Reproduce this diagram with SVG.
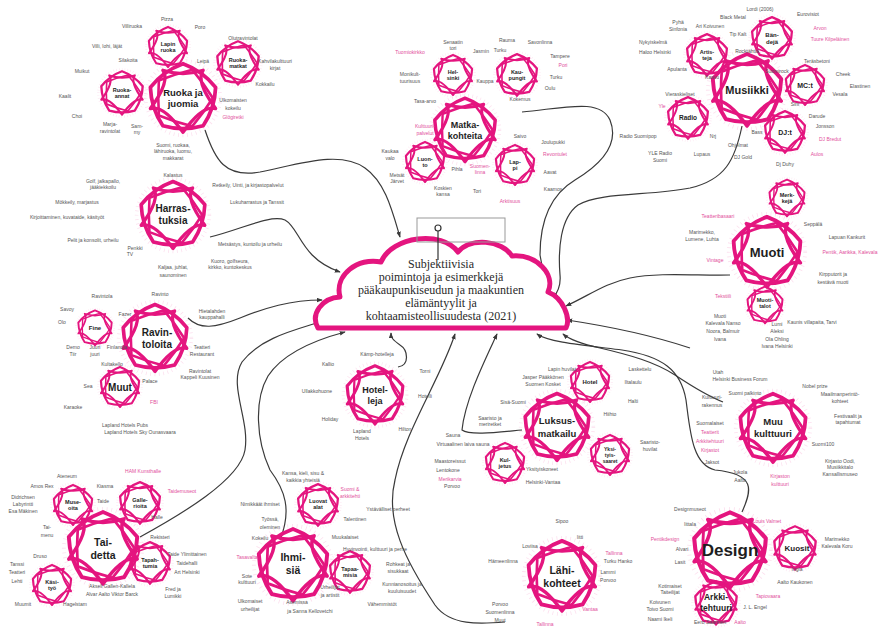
<svg xmlns="http://www.w3.org/2000/svg" xmlns:xlink="http://www.w3.org/1999/xlink" width="886" height="632" viewBox="0 0 886 632">
<style>
.fl{fill:none;stroke:#e4157f;stroke-linejoin:round}
.con{fill:none;stroke:#3a3a3a;stroke-width:1.2;marker-end:url(#ar)}
.tl{font-family:"Liberation Sans",Arial,sans-serif;font-weight:bold;fill:#1e1e1e;text-anchor:middle}
.t{font-family:"Liberation Sans",Arial,sans-serif;font-size:5px;fill:#555;text-anchor:middle}
.p{font-family:"Liberation Sans",Arial,sans-serif;font-size:5px;fill:#e24f9c;text-anchor:middle}
.cl{font-family:"Liberation Serif","Times New Roman",serif;font-size:12px;fill:#2a2a2a;text-anchor:middle}
</style>
<defs>
<symbol id="fl" viewBox="-55 -55 110 110">
<circle r="50" fill="none" stroke="#f06cb2" stroke-width="5" stroke-dasharray="1 5" opacity="0.22"/>
<path class="fl" stroke-width="5" d="M0,-46 Q26.45,-36.41 43.75,-14.21 Q42.8,13.91 27.04,37.21 Q0,45 -27.04,37.21 Q-42.8,13.91 -43.75,-14.21 Q-26.45,-36.41 0,-46Z"/>
<path class="fl" stroke-width="4.5" d="M27.04,-37.21 Q16.5,-22.7 43.75,14.21 Q26.6,8.6 0,46 Q-26.6,8.6 -43.75,14.21 Q-16.5,-22.7 -27.04,-37.21 Q0,-28 27.04,-37.21Z"/>
<path class="fl" stroke-width="3.5" d="M12.36,-38.04 Q27.51,-19.98 40,0 Q27.51,19.98 12.36,38.04 Q-10.51,32.34 -32.36,23.51 Q-34,0 -32.36,-23.51 Q-10.51,-32.34 12.36,-38.04Z"/>
</symbol>
<marker id="ar" viewBox="0 0 8 6" refX="7" refY="3" markerWidth="6" markerHeight="5" orient="auto" markerUnits="userSpaceOnUse">
<path d="M0,0 L8,3 L0,6z" fill="#3a3a3a"/>
</marker>
</defs>
<rect width="886" height="632" fill="#ffffff"/>

<g id="connectors">
<path class="con" d="M205,130 C215,160 225,178 260,172 C300,164 340,150 365,168 C385,182 392,210 400,237"/>
<path class="con" d="M522,112 C565,108 600,98 610,120 C620,145 600,165 575,180 C555,192 540,215 540,255 L544,276"/>
<path class="con" d="M742,126 C735,160 725,180 690,188 C650,196 600,192 578,205 C560,218 558,250 560,275 C561,285 558,292 553,298"/>
<path class="con" d="M730,275 C700,276 660,272 630,278 C605,283 590,295 566,306"/>
<path class="con" d="M690,348 C660,338 620,328 567,320"/>
<path class="con" d="M210,237 C240,230 270,214 285,220 C300,228 300,258 340,272"/>
<path class="con" d="M188,318 C200,330 215,328 240,318 C265,308 290,300 322,300"/>
<path class="con" d="M140,537 C180,515 240,480 245,450 C250,420 228,385 242,362 C260,338 295,330 320,322"/>
<path class="con" d="M280,540 C292,510 285,490 270,470 C256,440 254,400 268,376 C283,353 315,340 345,332"/>
<path class="con" d="M398,367 C410,365 408,350 400,345 C393,340 391,338 391,333"/>
<path class="con" d="M505,622 C480,624 450,626 435,605 C405,560 385,520 395,480 C405,430 440,380 455,334"/>
<path class="con" d="M522,430 C500,432 470,436 462,430 C465,400 485,360 497,334"/>
<path class="con" d="M723,402 C705,395 690,385 675,375 C655,362 630,355 600,348 C582,344 570,340 563,334"/>
<path class="con" d="M742,512 C752,490 756,474 715,470 C692,465 690,430 686,400 C681,370 662,356 622,350 C582,345 548,342 537,334"/>
</g>

<g id="cloud">
<path d="M318,328 C310,314 322,298 340,297 C334,275 358,257 381,262 C392,236 442,230 458,252 C470,237 502,240 512,256 C536,254 556,274 548,292 C563,298 571,318 566,328 Z" fill="#fff" stroke="#e4157f" stroke-width="5" stroke-linejoin="round"/>
<rect x="417" y="218" width="88" height="24" fill="none" stroke="#999" stroke-width="1"/>
<line x1="438" y1="231" x2="438" y2="260" stroke="#333" stroke-width="1.2"/>
<circle cx="438" cy="228" r="3" fill="#fff" stroke="#333" stroke-width="1.2"/>
<text class="cl" x="441" y="268">Subjektiivisia</text>
<text class="cl" x="441" y="281">poimintoja ja esimerkkejä</text>
<text class="cl" x="441" y="294">pääkaupunkiseudun ja maakuntien</text>
<text class="cl" x="441" y="307">elämäntyylit ja</text>
<text class="cl" x="441" y="320">kohtaamisteollisuudesta (2021)</text>
</g>

<g id="ruoka">
<use href="#fl" x="142" y="57" width="82" height="82"/>
<text class="tl" font-size="9.5" x="183" y="96">Ruoka ja</text>
<text class="tl" font-size="9.5" x="183" y="107">juomia</text>
<use href="#fl" x="144" y="23" width="48" height="48"/>
<text class="tl" font-size="5.5" x="168" y="46">Lapin</text>
<text class="tl" font-size="5.5" x="168" y="52">ruoka</text>
<use href="#fl" x="212" y="37" width="52" height="52"/>
<text class="tl" font-size="5.5" x="238" y="62">Ruoka-</text>
<text class="tl" font-size="5.5" x="238" y="68">matkat</text>
<use href="#fl" x="96" y="67" width="52" height="52"/>
<text class="tl" font-size="5.5" x="122" y="92">Ruoka-</text>
<text class="tl" font-size="5.5" x="122" y="98">annat</text>
<text class="t" x="167" y="21">Pizza</text>
<text class="t" x="132" y="28">Villiruoka</text>
<text class="t" x="200" y="29">Poro</text>
<text class="t" x="107" y="48">Villi, lohi, läjät</text>
<text class="t" x="243" y="40">Olutravintolat</text>
<text class="t" x="128" y="62">Silakoita</text>
<text class="t" x="203" y="63">Leipä</text>
<text class="t" x="275" y="63">Kahvilakulttuuri</text>
<text class="t" x="275" y="70">kirjat</text>
<text class="t" x="82" y="73">Muikut</text>
<text class="t" x="265" y="86">Kokkailu</text>
<text class="t" x="65" y="98">Kaalit</text>
<text class="t" x="233" y="102">Ulkomaisten</text>
<text class="t" x="233" y="110">kokeilu</text>
<text class="p" x="233" y="119">Glögiretki</text>
<text class="t" x="77" y="118">Choi</text>
<text class="t" x="110" y="126">Marja-</text>
<text class="t" x="110" y="133">ravintolat</text>
<text class="t" x="137" y="128">Sam-</text>
<text class="t" x="137" y="134">my</text>
<text class="t" x="173" y="147">Suomi, ruokaa,</text>
<text class="t" x="173" y="153">lähiruoka, luomu,</text>
<text class="t" x="173" y="160">makkarat</text>
</g>

<g id="matka">
<use href="#fl" x="427" y="92" width="76" height="76"/>
<text class="tl" font-size="9" x="465" y="128">Matka-</text>
<text class="tl" font-size="9" x="465" y="139">kohteita</text>
<use href="#fl" x="429" y="51" width="48" height="48"/>
<text class="tl" font-size="5.5" x="453" y="74">Hel-</text>
<text class="tl" font-size="5.5" x="453" y="80">sinki</text>
<use href="#fl" x="492" y="50" width="50" height="50"/>
<text class="tl" font-size="5.5" x="517" y="74">Kau-</text>
<text class="tl" font-size="5.5" x="517" y="80">pungit</text>
<use href="#fl" x="401" y="138" width="48" height="48"/>
<text class="tl" font-size="5.5" x="425" y="161">Luon-</text>
<text class="tl" font-size="5.5" x="425" y="167">to</text>
<use href="#fl" x="491" y="141" width="48" height="48"/>
<text class="tl" font-size="5.5" x="515" y="164">Lap-</text>
<text class="tl" font-size="5.5" x="515" y="170">pi</text>
<text class="t" x="453" y="44">Senaatin</text>
<text class="t" x="453" y="50">tori</text>
<text class="p" x="410" y="54">Tuomiokirkko</text>
<text class="t" x="481" y="53">Jasmin</text>
<text class="t" x="507" y="42">Rauma</text>
<text class="t" x="500" y="52">Turku</text>
<text class="t" x="540" y="44">Savonlinna</text>
<text class="t" x="560" y="58">Tampere</text>
<text class="p" x="563" y="67">Pori</text>
<text class="t" x="410" y="76">Monikult-</text>
<text class="t" x="410" y="83">tuurisuus</text>
<text class="t" x="556" y="79">Turku</text>
<text class="t" x="550" y="90">Oulu</text>
<text class="t" x="485" y="83">Kauppa</text>
<text class="t" x="425" y="103">Tasa-arvo</text>
<text class="t" x="520" y="101">Kokemus</text>
<text class="p" x="425" y="128">Kulttuuri-</text>
<text class="p" x="425" y="135">palvelut</text>
<text class="t" x="520" y="138">Saivo</text>
<text class="t" x="553" y="144">Joulupukki</text>
<text class="p" x="555" y="156">Revontulet</text>
<text class="t" x="390" y="153">Kaukaa</text>
<text class="t" x="390" y="160">valo</text>
<text class="t" x="457" y="171">Pihla</text>
<text class="p" x="480" y="168">Suomen-</text>
<text class="p" x="480" y="174">linna</text>
<text class="t" x="550" y="174">Aavat</text>
<text class="t" x="397" y="177">Metsät</text>
<text class="t" x="397" y="183">Järvet</text>
<text class="t" x="553" y="191">Kaamos</text>
<text class="t" x="443" y="190">Koskien</text>
<text class="t" x="443" y="196">kansa</text>
<text class="t" x="477" y="193">Tori</text>
<text class="p" x="510" y="203">Arktisuus</text>
</g>

<g id="musiikki">
<use href="#fl" x="704" y="47" width="86" height="86"/>
<text class="tl" font-size="11" x="747" y="94">Musiikki</text>
<use href="#fl" x="682" y="30" width="50" height="50"/>
<text class="tl" font-size="5.5" x="707" y="54">Artis-</text>
<text class="tl" font-size="5.5" x="707" y="60">teja</text>
<use href="#fl" x="747" y="13" width="50" height="50"/>
<text class="tl" font-size="6" x="772" y="37">Bän-</text>
<text class="tl" font-size="6" x="772" y="44">dejä</text>
<use href="#fl" x="781" y="61" width="48" height="48"/>
<text class="tl" font-size="7" x="805" y="88">MC:t</text>
<use href="#fl" x="760" y="107" width="50" height="50"/>
<text class="tl" font-size="7" x="785" y="135">DJ:t</text>
<use href="#fl" x="663" y="93" width="50" height="50"/>
<text class="tl" font-size="6.5" x="688" y="120">Radio</text>
<text class="t" x="760" y="11">Lordi (2006)</text>
<text class="t" x="808" y="16">Eurovisiot</text>
<text class="t" x="733" y="19">Black Metal</text>
<text class="t" x="678" y="24">Pyhä</text>
<text class="t" x="678" y="31">Sinfonia</text>
<text class="t" x="710" y="28">Ari Koivunen</text>
<text class="t" x="738" y="36">Tip Kalt</text>
<text class="p" x="820" y="30">Arvon</text>
<text class="p" x="830" y="41">Tuure Kilpeläinen</text>
<text class="t" x="653" y="44">Nykyiskelmä</text>
<text class="t" x="655" y="54">Haloo Helsinki</text>
<text class="t" x="747" y="53">Rocktähtiä</text>
<text class="t" x="817" y="63">Teräsbetoni</text>
<text class="t" x="677" y="71">Apulanta</text>
<text class="t" x="777" y="73">Suomirock</text>
<text class="t" x="843" y="76">Cheek</text>
<text class="t" x="712" y="79">Kasvu</text>
<text class="t" x="860" y="88">Elastinen</text>
<text class="t" x="680" y="96">Vieraskieliset</text>
<text class="p" x="662" y="108">Yle</text>
<text class="t" x="840" y="96">Vesala</text>
<text class="t" x="795" y="106">Sini</text>
<text class="t" x="817" y="118">Darude</text>
<text class="t" x="825" y="128">Jonsson</text>
<text class="t" x="638" y="138">Radio Suomipop</text>
<text class="t" x="757" y="134">Bass</text>
<text class="t" x="713" y="138">Nrj</text>
<text class="p" x="830" y="141">DJ Bredut</text>
<text class="t" x="738" y="147">Ohjelmat</text>
<text class="p" x="817" y="156">Aulos</text>
<text class="t" x="660" y="155">YLE Radio</text>
<text class="t" x="660" y="162">Suomi</text>
<text class="t" x="702" y="156">Lupaus</text>
<text class="t" x="743" y="159">DJ Gold</text>
<text class="t" x="785" y="166">Dj Duhy</text>
</g>

<g id="muoti">
<use href="#fl" x="725" y="210" width="84" height="84"/>
<text class="tl" font-size="13" x="767" y="257">Muoti</text>
<use href="#fl" x="765" y="176" width="44" height="44"/>
<text class="tl" font-size="5.5" x="787" y="197">Merk-</text>
<text class="tl" font-size="5.5" x="787" y="203">kejä</text>
<use href="#fl" x="743" y="283" width="44" height="44"/>
<text class="tl" font-size="5.5" x="765" y="302">Muoti-</text>
<text class="tl" font-size="5.5" x="765" y="308">talot</text>
<text class="p" x="718" y="218">Teatteribasaari</text>
<text class="t" x="813" y="226">Seppälä</text>
<text class="t" x="702" y="234">Marimekko,</text>
<text class="t" x="702" y="241">Lumene, Luhta</text>
<text class="t" x="847" y="239">Lapuan Kankurit</text>
<text class="p" x="850" y="254">Pentik, Aarikka, Kalevala</text>
<text class="p" x="715" y="262">Vintage</text>
<text class="t" x="833" y="276">Kirpputorit ja</text>
<text class="t" x="833" y="284">kestävä muoti</text>
<text class="p" x="723" y="298">Tekstiili</text>
<text class="t" x="720" y="318">Muoti</text>
<text class="t" x="723" y="325">Kalevala Nanso</text>
<text class="t" x="723" y="333">Noora, Balmuir</text>
<text class="t" x="720" y="341">Ivana</text>
<text class="t" x="812" y="324">Kaunis villapaita, Tarvi</text>
<text class="t" x="777" y="326">Lumi</text>
<text class="t" x="777" y="333">Aleksi</text>
<text class="t" x="777" y="341">Ola Ohling</text>
<text class="t" x="777" y="348">Ivana Helsinki</text>
</g>

<g id="harrastuksia">
<use href="#fl" x="133" y="175" width="80" height="80"/>
<text class="tl" font-size="10" x="173" y="212">Harras-</text>
<text class="tl" font-size="10" x="173" y="224">tuksia</text>
<text class="t" x="103" y="183">Golf, jalkapallo,</text>
<text class="t" x="103" y="189">jääkiekkoilu</text>
<text class="t" x="173" y="177">Kalastus</text>
<text class="t" x="248" y="187">Retkeily, Uinti, ja kirjastopalvelut</text>
<text class="t" x="77" y="204">Mökkeily, marjastus</text>
<text class="t" x="257" y="204">Lukuharrastus ja Tanssit</text>
<text class="t" x="67" y="219">Kirjoittaminen, kuvataide, käsityöt</text>
<text class="t" x="93" y="242">Pelit ja konsolit, urheilu</text>
<text class="t" x="250" y="246">Metsästys, kuntoilu ja urheilu</text>
<text class="t" x="135" y="250">Penkki</text>
<text class="t" x="130" y="256">TV</text>
<text class="t" x="173" y="269">Kaljaa, juhlat,</text>
<text class="t" x="173" y="277">saunominen</text>
<text class="t" x="230" y="263">Kuoro, golfseura,</text>
<text class="t" x="230" y="269">kirkko, kuntokeskus</text>
</g>

<g id="ravintoloita">
<use href="#fl" x="115" y="298" width="80" height="80"/>
<text class="tl" font-size="10" x="157" y="336">Ravin-</text>
<text class="tl" font-size="10" x="157" y="348">toloita</text>
<use href="#fl" x="74" y="307" width="42" height="42"/>
<text class="tl" font-size="6" x="95" y="330">Fine</text>
<use href="#fl" x="96" y="363" width="48" height="48"/>
<text class="tl" font-size="10" x="120" y="391">Muut</text>
<text class="t" x="160" y="296">Ravinto</text>
<text class="t" x="102" y="298">Ravintola</text>
<text class="t" x="67" y="311">Savoy</text>
<text class="t" x="125" y="316">Fazer</text>
<text class="t" x="62" y="324">Olo</text>
<text class="t" x="212" y="313">Hietalahden</text>
<text class="t" x="212" y="319">kauppahalli</text>
<text class="t" x="73" y="349">Demo</text>
<text class="t" x="73" y="356">Tiir</text>
<text class="t" x="95" y="349">Juuri</text>
<text class="t" x="95" y="356">juuri</text>
<text class="t" x="117" y="349">Finlandia</text>
<text class="t" x="202" y="349">Teatteri</text>
<text class="t" x="202" y="356">Restaurant</text>
<text class="t" x="112" y="366">Kultakello</text>
<text class="t" x="200" y="373">Ravintolat</text>
<text class="t" x="200" y="379">Kappeli Kuusinen</text>
<text class="t" x="88" y="388">Sea</text>
<text class="t" x="150" y="383">Palace</text>
<text class="p" x="154" y="404">FBI</text>
<text class="t" x="73" y="409">Karaoke</text>
<text class="t" x="125" y="427">Lapland Hotels Pubs</text>
<text class="t" x="140" y="434">Lapland Hotels Sky Ounasvaara</text>
</g>

<g id="hotelleja">
<use href="#fl" x="340" y="360" width="70" height="70"/>
<text class="tl" font-size="9" x="375" y="393">Hotel-</text>
<text class="tl" font-size="9" x="375" y="404">leja</text>
<text class="t" x="377" y="356">Kämp-hotelleja</text>
<text class="t" x="328" y="366">Kallio</text>
<text class="t" x="425" y="373">Torni</text>
<text class="t" x="317" y="393">Ullakkohuone</text>
<text class="t" x="425" y="398">Hotelli</text>
<text class="t" x="330" y="421">Holiday</text>
<text class="t" x="362" y="433">Lapland</text>
<text class="t" x="362" y="440">Hotels</text>
<text class="t" x="405" y="431">Hilton</text>
</g>

<g id="luksus">
<use href="#fl" x="517" y="387" width="80" height="80"/>
<text class="tl" font-size="9.5" x="557" y="424">Luksus-</text>
<text class="tl" font-size="9.5" x="557" y="437">matkailu</text>
<use href="#fl" x="566" y="358" width="48" height="48"/>
<text class="tl" font-size="6" x="590" y="384">Hotel</text>
<use href="#fl" x="481" y="439" width="48" height="48"/>
<text class="tl" font-size="5.5" x="505" y="462">Kul-</text>
<text class="tl" font-size="5.5" x="505" y="468">jetus</text>
<use href="#fl" x="586" y="431" width="48" height="48"/>
<text class="tl" font-size="5" x="610" y="451">Yksi-</text>
<text class="tl" font-size="5" x="610" y="457">tyis-</text>
<text class="tl" font-size="5" x="610" y="463">saaret</text>
<text class="t" x="562" y="371">Lapin huvilat</text>
<text class="t" x="640" y="371">Laskettelu</text>
<text class="t" x="543" y="379">Jasper Pääkkönen</text>
<text class="t" x="543" y="386">Suomen Kosket</text>
<text class="t" x="633" y="384">Iltalaulu</text>
<text class="t" x="633" y="403">Halti</text>
<text class="t" x="513" y="404">Sisä-Suomi</text>
<text class="t" x="610" y="416">Hiihto</text>
<text class="t" x="490" y="420">Saaristo ja</text>
<text class="t" x="490" y="426">meriretket</text>
<text class="t" x="453" y="437">Sauna</text>
<text class="t" x="463" y="446">Virtuaalinen laiva sauna</text>
<text class="t" x="650" y="444">Saaristo-</text>
<text class="t" x="650" y="451">huvilat</text>
<text class="t" x="450" y="463">Maastoreissut</text>
<text class="t" x="448" y="472">Lentokone</text>
<text class="t" x="542" y="471">Yksityiskoneet</text>
<text class="p" x="450" y="481">Merikarvia</text>
<text class="t" x="452" y="488">Porvoo</text>
<text class="t" x="543" y="484">Helsinki-Vantaa</text>
</g>

<g id="muukulttuuri">
<use href="#fl" x="732" y="387" width="82" height="82"/>
<text class="tl" font-size="9.5" x="773" y="425">Muu</text>
<text class="tl" font-size="9.5" x="773" y="437">kulttuuri</text>
<text class="t" x="718" y="374">Utah</text>
<text class="t" x="740" y="381">Helsinki Business Forum</text>
<text class="t" x="815" y="388">Nobel prize</text>
<text class="t" x="840" y="396">Maailmanperintö-</text>
<text class="t" x="840" y="403">kohteet</text>
<text class="t" x="745" y="395">Suomi palkinto</text>
<text class="t" x="712" y="399">Kulttuuri-</text>
<text class="t" x="712" y="407">rakennus</text>
<text class="t" x="848" y="418">Festivaalit ja</text>
<text class="t" x="848" y="424">tapahtumat</text>
<text class="t" x="710" y="425">Suomalaiset</text>
<text class="p" x="710" y="434">Teatterit</text>
<text class="p" x="710" y="443">Arkkitehtuuri</text>
<text class="p" x="710" y="452">Kirjastot</text>
<text class="t" x="823" y="446">Suomi100</text>
<text class="t" x="712" y="464">Jaksot</text>
<text class="t" x="840" y="463">Kirjasto Oodi,</text>
<text class="t" x="840" y="469">Musiikkitalo</text>
<text class="t" x="840" y="476">Kansallismuseo</text>
<text class="t" x="740" y="474">Jukola</text>
<text class="t" x="740" y="482">Aalto</text>
<text class="p" x="780" y="478">Kirjaston</text>
<text class="p" x="780" y="486">kulttuuri</text>
</g>

<g id="taidetta">
<use href="#fl" x="60" y="505" width="86" height="86"/>
<text class="tl" font-size="10.5" x="103" y="546">Tai-</text>
<text class="tl" font-size="10.5" x="103" y="559">detta</text>
<use href="#fl" x="49" y="481" width="48" height="48"/>
<text class="tl" font-size="5.5" x="73" y="504">Muse-</text>
<text class="tl" font-size="5.5" x="73" y="510">oita</text>
<use href="#fl" x="115" y="478" width="50" height="50"/>
<text class="tl" font-size="5.5" x="140" y="502">Galle-</text>
<text class="tl" font-size="5.5" x="140" y="508">rioita</text>
<use href="#fl" x="125" y="538" width="50" height="50"/>
<text class="tl" font-size="5.5" x="150" y="562">Tapah-</text>
<text class="tl" font-size="5.5" x="150" y="568">tumia</text>
<use href="#fl" x="28" y="561" width="48" height="48"/>
<text class="tl" font-size="5.5" x="52" y="584">Käsi-</text>
<text class="tl" font-size="5.5" x="52" y="590">työ</text>
<text class="p" x="143" y="473">HAM Kunsthalle</text>
<text class="t" x="67" y="478">Ateneum</text>
<text class="t" x="42" y="488">Amos Rex</text>
<text class="t" x="105" y="488">Kiasma</text>
<text class="p" x="182" y="493">Taidemuseot</text>
<text class="t" x="23" y="499">Didrichsen</text>
<text class="t" x="23" y="506">Labyrintti</text>
<text class="t" x="23" y="513">Esa Mäkinen</text>
<text class="t" x="103" y="503">Taide</text>
<text class="t" x="157" y="519">Halle</text>
<text class="t" x="47" y="529">Tai-</text>
<text class="t" x="47" y="537">menu</text>
<text class="t" x="160" y="539">Rekisteri</text>
<text class="t" x="40" y="558">Druso</text>
<text class="t" x="187" y="556">Taide Ylimittainen</text>
<text class="t" x="187" y="565">Taidehalli</text>
<text class="t" x="187" y="574">Art Helsinki</text>
<text class="t" x="17" y="566">Tanssi</text>
<text class="t" x="17" y="574">Teatteri</text>
<text class="t" x="17" y="583">Lehti</text>
<text class="t" x="112" y="588">Akseli Gallen-Kallela</text>
<text class="t" x="112" y="596">Alvar Aalto Viktor Barck</text>
<text class="t" x="173" y="591">Fred ja</text>
<text class="t" x="173" y="598">Lumikki</text>
<text class="t" x="23" y="606">Muumit</text>
<text class="t" x="75" y="606">Hagelstam</text>
</g>

<g id="ihmisia">
<use href="#fl" x="250" y="522" width="86" height="86"/>
<text class="tl" font-size="10.5" x="293" y="561">Ihmi-</text>
<text class="tl" font-size="10.5" x="293" y="574">siä</text>
<use href="#fl" x="293" y="480" width="50" height="50"/>
<text class="tl" font-size="5.5" x="318" y="503">Luovat</text>
<text class="tl" font-size="5.5" x="318" y="509">alat</text>
<use href="#fl" x="325" y="547" width="50" height="50"/>
<text class="tl" font-size="5.5" x="350" y="571">Tapaa-</text>
<text class="tl" font-size="5.5" x="350" y="577">misia</text>
<text class="t" x="303" y="475">Kansa, kieli, sisu &amp;</text>
<text class="t" x="303" y="482">kaikkia yhteisiä</text>
<text class="p" x="350" y="491">Suomi &amp;</text>
<text class="p" x="350" y="498">arkkitehti</text>
<text class="t" x="260" y="506">Nimikkäät ihmiset</text>
<text class="t" x="388" y="511">Ystävälliset perheet</text>
<text class="t" x="270" y="521">Työssä,</text>
<text class="t" x="270" y="529">oleminen</text>
<text class="t" x="355" y="521">Talentinen</text>
<text class="t" x="260" y="540">Kokeilu</text>
<text class="t" x="345" y="539">Muukalaiset</text>
<text class="t" x="375" y="551">Hyvinvointi, kulttuuri ja perhe</text>
<text class="p" x="247" y="559">Tasavalta</text>
<text class="t" x="398" y="566">Rohkeat ja</text>
<text class="t" x="398" y="573">sisukkaat</text>
<text class="t" x="247" y="578">Sote</text>
<text class="t" x="247" y="584">kulttuuri</text>
<text class="t" x="330" y="589">Urheilijat</text>
<text class="t" x="330" y="597">ja artistit</text>
<text class="t" x="402" y="586">Kunnianosoitus ja</text>
<text class="t" x="402" y="593">kuuluisuudet</text>
<text class="t" x="250" y="603">Ulkomaiset</text>
<text class="t" x="250" y="611">urheilijat</text>
<text class="t" x="297" y="604">Asemissa</text>
<text class="t" x="310" y="613">ja Sanna Kellovetchi</text>
<text class="t" x="382" y="606">Vähemmistöt</text>
</g>

<g id="lahikohteet">
<use href="#fl" x="520" y="534" width="84" height="84"/>
<text class="tl" font-size="10.5" x="562" y="574">Lähi-</text>
<text class="tl" font-size="10.5" x="562" y="587">kohteet</text>
<text class="t" x="562" y="523">Sipoo</text>
<text class="t" x="580" y="539">Iitti</text>
<text class="t" x="530" y="548">Loviisa</text>
<text class="p" x="614" y="555">Tallinna</text>
<text class="t" x="618" y="563">Turku Hanko</text>
<text class="t" x="503" y="563">Hämeenlinna</text>
<text class="t" x="608" y="574">Lammi</text>
<text class="t" x="608" y="582">Porvoo</text>
<text class="t" x="500" y="606">Porvoo</text>
<text class="t" x="500" y="614">Suomenlinna</text>
<text class="t" x="500" y="622">Muut</text>
<text class="p" x="590" y="611">Vantaa</text>
<text class="p" x="545" y="626">Tallinna</text>
</g>

<g id="design">
<use href="#fl" x="685" y="505" width="90" height="90"/>
<text class="tl" font-size="17" x="730" y="556">Design</text>
<use href="#fl" x="769" y="522" width="52" height="52"/>
<text class="tl" font-size="8" x="797" y="551">Kuosit</text>
<use href="#fl" x="690" y="577" width="52" height="52"/>
<text class="tl" font-size="8.5" x="716" y="600">Arkki-</text>
<text class="tl" font-size="8.5" x="716" y="611">tehtuuri</text>
<text class="t" x="690" y="511">Designmuseot</text>
<text class="t" x="690" y="526">Iittala</text>
<text class="p" x="767" y="523">Louis Valmet</text>
<text class="p" x="665" y="541">Pentikdesign</text>
<text class="t" x="682" y="551">Alvari</text>
<text class="t" x="837" y="541">Marimekko</text>
<text class="t" x="837" y="548">Kalevala Koru</text>
<text class="t" x="680" y="564">Lasit</text>
<text class="t" x="797" y="571">Ingla</text>
<text class="t" x="795" y="584">Aalto Kaukonen</text>
<text class="t" x="670" y="588">Kotimaiset</text>
<text class="t" x="670" y="594">Taiteilijat</text>
<text class="p" x="768" y="598">Tapiovaara</text>
<text class="t" x="660" y="604">Koivunen</text>
<text class="t" x="660" y="611">Toivo Suomi</text>
<text class="t" x="660" y="621">Naami Ikeli</text>
<text class="t" x="755" y="609">J. L. Engel</text>
<text class="t" x="710" y="624">Eero Saarinen</text>
<text class="p" x="740" y="624">Aalto</text>
</g>
</svg>
